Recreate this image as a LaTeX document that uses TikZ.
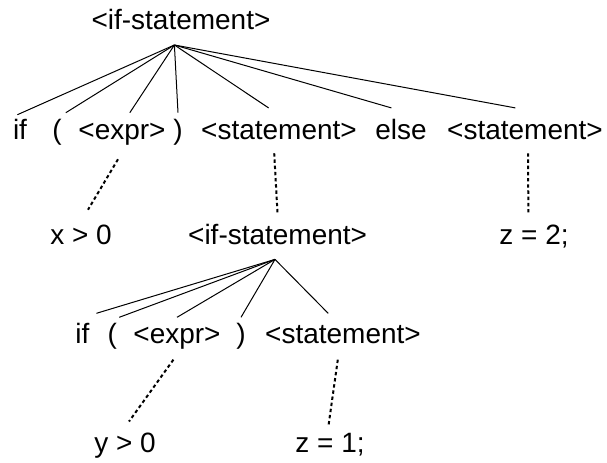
\documentclass[tikz,border=0pt]{standalone}
\usepackage{fontspec}
\setmainfont{Liberation Sans}
\usetikzlibrary{calc,positioning}

\begin{document}
\begin{tikzpicture}[baseline=0mm,
	every node/.style={font=\fontsize{19.9}{24}\selectfont,anchor=base,inner sep=1.4mm,text height=5.2mm,text depth=1.5mm},
	branch/.style={line width=0.25mm},
	derive/.style={dash pattern=on 0.85mm off 0.7mm,line width=0.5mm}]
				%\draw[color=gray,step=1mm, help lines,opacity=0.3] (0pt,0pt) grid (152mm,116mm); %help grids
				\useasboundingbox (0mm,0mm) rectangle (151.75mm,115.75mm);
				\node (ifst) at (45.25mm,108.25mm) {<if-statement>};
				\coordinate (top) at (43.6mm,104.5mm);

				\node (if1) at (5mm,80.9mm) {if};
				\node (lp1) at (14.25mm,80.9mm) {(};
				\node (ex1) at (30.5mm,80.9mm) {<expr>};
				\node (rp1) at (44.5mm,80.9mm) {)};
				\node (st1) at (69.75mm,80.9mm) {<statement>};
				\node (el1) at (100.25mm,80.9mm) {else};
				\node (st2) at (131.25mm,80.9mm) {<statement>};
				\draw[branch] (top)--([shift={(-0.65mm,-0.5mm)}]if1.north);
				\draw[branch] (top)--([xshift=2.2mm]lp1.north);
				\draw[branch] (top)--([xshift=1.95mm]ex1.north);
				\draw[branch] (top)--(rp1.north);
				\draw[branch] (top)--([shift={(-2.6mm,1.2mm)}]st1.north);
				\draw[branch] (top)--([shift={(-2.4mm,1.2mm)}]el1.north);
				\draw[branch] (top)--([shift={(-2.4mm,1.2mm)}]st2.north);

				\node (xg) at (20.25mm,54.5mm) {x > 0};
				\node (ifst2) at (69.4mm,54.5mm) {<if-statement>};
				\node (za) at (133.5mm,54.5mm) {z = 2;};
				\draw[derive] ([shift={(-1mm,-2mm)}]ex1.south)--([shift={(1.75mm,2.15mm)}]xg.north);
				\draw[derive] ([shift={(-1.2mm,-0.5mm)}]st1.south)--([yshift=0.9mm]ifst2.north);
				\draw[derive] ([shift={(0.75mm,-0.5mm)}]st2.south)--([shift={(-1.4mm,0.9mm)}]za.north);
				\coordinate (top2) at (68.75mm,50.9mm);

				\node (if2) at (20.6mm,29.75mm) {if};
				\node (lp2) at (28.1mm,29.75mm) {(};
				\node (ex2) at (44.25mm,29.75mm) {<expr>};
				\node (rp2) at (60.25mm,29.75mm) {)};
				\node (st3) at (85.75mm,29.75mm) {<statement>};
				\draw[branch] (top2)--([shift={(3.5mm,1mm)}]if2.north);
				\draw[branch] (top2)--([xshift=1.7mm]lp2.north);
				\draw[branch] (top2)--(ex2.north);
				\draw[branch] (top2)--(rp2.north);
				\draw[branch] (top2)--([shift={(-3.7mm,1mm)}]st3.north);

				\node (yg) at (31.25mm,2.5mm) {y > 0};
				\node (zb) at (82.5mm,2.5mm) {z = 1;};
				\draw[derive] ([shift={(-0.9mm,-0.95mm)}]ex2.south)--([shift={(1mm,1.2mm)}]yg.north);
				\draw[derive] ([shift={(-1.3mm,-0.95mm)}]st3.south)--([xshift=-0.4mm]zb.north);
\end{tikzpicture}
\end{document}
